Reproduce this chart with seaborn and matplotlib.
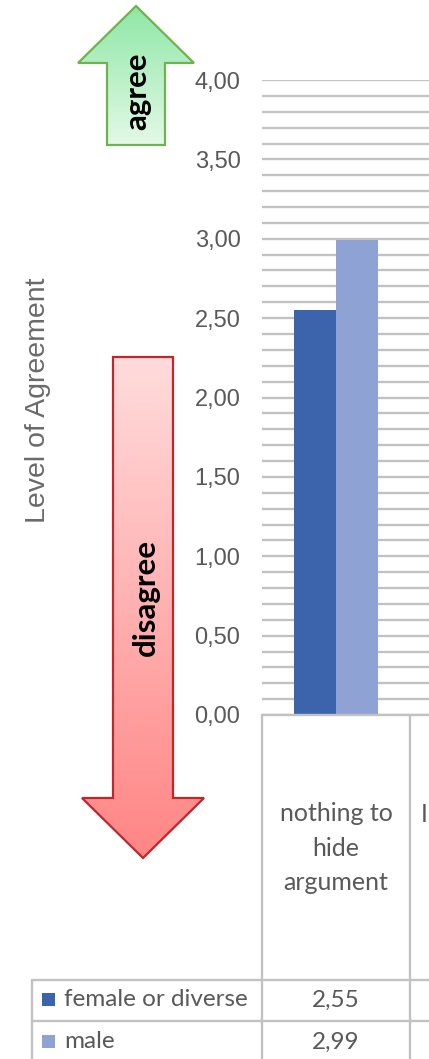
import numpy as np
import pandas as pd
import matplotlib
matplotlib.use("Agg")
import matplotlib.pyplot as plt
import seaborn as sns
from matplotlib.patches import Polygon, Rectangle
from matplotlib.colors import LinearSegmentedColormap
from matplotlib.ticker import MultipleLocator, FuncFormatter

# ---- data -------------------------------------------------------------
categories = ["nothing to\nhide\nargument"]
groups = ["female or diverse", "male"]
female_values = [2.55]
male_values = [2.99]
y_major_ticks = [0.0, 0.5, 1.0, 1.5, 2.0, 2.5, 3.0, 3.5, 4.0]
y_label = "Level of Agreement"
arrow_up_text = "agree"
arrow_down_text = "disagree"

female_color = "#3c64ad"
male_color = "#8ea3d4"
text_gray = "#595959"
line_gray = "#c2c2c2"

sns.set_theme(style="white")
plt.rcParams["font.family"] = ["Liberation Sans", "DejaVu Sans"]

W, H = 429, 1059
fig = plt.figure(figsize=(W / 100, H / 100), dpi=100)


def fx(px):
    return px / W


def fy(py):
    return 1 - py / H


# ---- bar chart --------------------------------------------------------
plot_left, plot_right, plot_top, plot_bottom = 262, 429, 80, 715
cat_width_px = 148
ax = fig.add_axes([fx(plot_left), fy(plot_bottom),
                   (plot_right - plot_left) / W, (plot_bottom - plot_top) / H])

df = pd.DataFrame({
    "category": categories * 2,
    "group": [groups[0]] * len(categories) + [groups[1]] * len(categories),
    "value": female_values + male_values,
})
sns.barplot(data=df, x="category", y="value", hue="group",
            palette=[female_color, male_color], width=0.57, saturation=1,
            edgecolor="none", linewidth=0, legend=False, ax=ax, zorder=3)

ax.set_ylim(0, 4)
ax.set_xlim(-0.5, -0.5 + (plot_right - plot_left) / cat_width_px)
ax.set_yticks(y_major_ticks)
ax.yaxis.set_minor_locator(MultipleLocator(0.1))
ax.yaxis.set_major_formatter(FuncFormatter(lambda v, p: f"{v:.2f}".replace(".", ",")))
ax.set_axisbelow(True)
ax.grid(which="both", axis="y", color=line_gray, linewidth=1.7)
ax.grid(which="both", axis="x", visible=False)
ax.set_xticks([])
ax.set_xlabel("")
ax.set_ylabel("")
ax.tick_params(axis="y", which="both", length=0, pad=15.5,
               labelsize=17, labelcolor=text_gray)
for s in ax.spines.values():
    s.set_visible(False)
ax.patch.set_alpha(0)

# ---- overlay in pixel coordinates -------------------------------------
ov = fig.add_axes([0, 0, 1, 1], zorder=5)
ov.set_xlim(0, W)
ov.set_ylim(H, 0)
ov.axis("off")
ov.patch.set_alpha(0)


def gradient_arrow(verts, top_color, bottom_color, edge):
    xs = [v[0] for v in verts]
    ys = [v[1] for v in verts]
    poly = Polygon(verts, closed=True, facecolor="none", edgecolor=edge,
                   linewidth=1.6, zorder=3, joinstyle="miter")
    ov.add_patch(poly)
    cmap = LinearSegmentedColormap.from_list("g", [top_color, bottom_color])
    grad = np.linspace(0, 1, 256).reshape(-1, 1)
    im = ov.imshow(grad, cmap=cmap, aspect="auto", origin="upper",
                   extent=(min(xs), max(xs), max(ys), min(ys)), zorder=2)
    im.set_clip_path(poly)


# up arrow
gradient_arrow([(136, 6), (194, 63), (165, 63), (165, 145), (107, 145),
                (107, 63), (78, 63)], "#8fe7a6", "#e3f9e7", "#6fb24f")
ov.text(137, 91, arrow_up_text, rotation=90, ha="center", va="center",
        fontsize=22.5, fontweight="bold", color="black", family=["Lato", "DejaVu Sans"])

# down arrow
gradient_arrow([(113, 357), (173, 357), (173, 798), (204, 798), (143, 858),
                (82, 798), (113, 798)], "#ffdcdc", "#ff8585", "#c0262a")
ov.text(146, 598, arrow_down_text, rotation=90, ha="center", va="center",
        fontsize=22.5, fontweight="bold", color="black", family=["Lato", "DejaVu Sans"])

# axis title
ov.text(38, 400, y_label, rotation=90, ha="center", va="center",
        fontsize=20.5, color="#6a6a6a")

# ---- category box and data table --------------------------------------
lw_tab = 1.7
col_x = [262, 410]
ov.plot([262, W], [715, 715], color=line_gray, lw=lw_tab, zorder=1)
for x in col_x:
    ov.plot([x, x], [715, H], color=line_gray, lw=lw_tab, zorder=1)
ov.plot([32, W], [980, 980], color=line_gray, lw=lw_tab, zorder=1)
ov.plot([32, W], [1021, 1021], color=line_gray, lw=lw_tab, zorder=1)
ov.plot([32, 32], [980, H], color=line_gray, lw=lw_tab, zorder=1)

cat_font = ["Lato", "DejaVu Sans"]
for i, cat in enumerate(categories):
    cx = 262 + cat_width_px * (i + 0.5)
    ov.text(cx, 848, cat, ha="center", va="center", multialignment="center",
            fontsize=18, color=text_gray, linespacing=1.6, family=cat_font)

ov.text(421, 815, "I", ha="left", va="center", fontsize=18,
        color=text_gray, family=cat_font, clip_on=True)

row_y = [1000, 1042]
row_colors = [female_color, male_color]
row_values = [female_values, male_values]
for y, name, col, vals in zip(row_y, groups, row_colors, row_values):
    ov.add_patch(Rectangle((42, y - 7), 13, 13, facecolor=col, edgecolor="none"))
    ov.text(64, y, name, ha="left", va="center", fontsize=17.5,
            color=text_gray, family=cat_font)
    for i, v in enumerate(vals):
        cx = 262 + cat_width_px * (i + 0.5)
        ov.text(cx, y, f"{v:.2f}".replace(".", ","), ha="center", va="center",
                fontsize=17.5, color=text_gray, family=cat_font)

fig.savefig("out.png", dpi=100)
